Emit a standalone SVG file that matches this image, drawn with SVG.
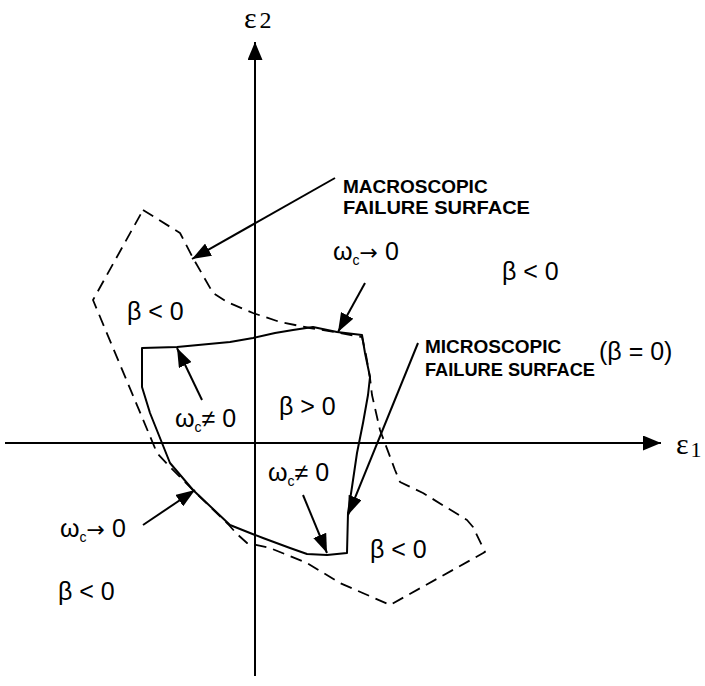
<svg xmlns="http://www.w3.org/2000/svg" width="705" height="686" viewBox="0 0 705 686">
<style>
.ax{stroke:#000;stroke-width:2;fill:none}
.mic{stroke:#000;stroke-width:2;fill:none;stroke-linejoin:round}
.mac{stroke:#000;stroke-width:1.8;fill:none;stroke-dasharray:12 7;stroke-linejoin:round}
.ar{stroke:#000;stroke-width:2;fill:none;marker-end:url(#ah)}
.lb{font-family:"Liberation Sans","DejaVu Sans",sans-serif;font-size:25px;fill:#000}
.cap{font-family:"Liberation Sans","DejaVu Sans",sans-serif;font-size:19px;font-weight:bold;fill:#000}
.eps{font-family:"Liberation Serif","DejaVu Serif",serif;fill:#000}
.sub{font-size:14px}
.arw{font-family:"DejaVu Sans",sans-serif;font-size:22px}
</style>
<defs>
<marker id="ah" markerUnits="userSpaceOnUse" markerWidth="20" markerHeight="14" refX="19" refY="7" orient="auto">
<path d="M0,0 L19,7 L0,14 Z" fill="#000"/>
</marker>
<marker id="axh" markerUnits="userSpaceOnUse" markerWidth="20" markerHeight="16" refX="18" refY="7.5" orient="auto">
<path d="M0,0 L18,7.5 L0,15 Z" fill="#000"/>
</marker>
</defs>
<g id="axes">
<line class="ax" x1="255" y1="676" x2="255" y2="42" marker-end="url(#axh)"/>
<line class="ax" x1="5" y1="443" x2="661" y2="443" marker-end="url(#axh)"/>
</g>
<g id="macroscopic-surface">
<polyline class="mac" points="143,210 180,233 193,258 213,293 227,302 253,313 280,322 310,328 340,333 362,337 366,355 370,378 372,395 380,430 395,470 400,482 423,493 467,520 473,527 485,552 390,605 340,583 307,563 270,548 247,543 237,534 228,524 195,492 170,467 157,453 93,300 143,210"/>
</g>
<g id="microscopic-surface">
<polygon class="mic" points="142,348 177,347 230,342 253,338 275,333 293,330 313,327 337,332 362,335 365,353 370,377 368,395 363,423 357,453 352,487 348,513 347,553 327,555 307,554 290,548 263,538 250,533 230,525 193,490 170,463 162,443 150,413 142,387"/>
</g>
<g id="connectors">
<line class="ar" x1="335" y1="178" x2="192" y2="259"/>
<line class="ar" x1="365" y1="283" x2="338" y2="332"/>
<line class="ar" x1="202" y1="400" x2="177" y2="348"/>
<line class="ar" x1="143" y1="525" x2="195" y2="490"/>
<line class="ar" x1="303" y1="495" x2="327" y2="553"/>
<line class="ar" x1="418" y1="343" x2="348" y2="515"/>
</g>
<g id="axis-labels">
<text class="eps" x="244" y="28"><tspan font-size="30">ε</tspan><tspan font-size="24" dx="3">2</tspan></text>
<text class="eps" x="676" y="454"><tspan font-size="30">ε</tspan><tspan font-size="22" dx="2" dy="3">1</tspan></text>
</g>
<g id="label-macroscopic">
<text class="cap" x="343" y="193">MACROSCOPIC</text>
<text class="cap" x="343" y="214" textLength="187" lengthAdjust="spacingAndGlyphs">FAILURE SURFACE</text>
</g>
<g id="label-microscopic">
<text class="cap" x="425" y="353">MICROSCOPIC</text>
<text class="cap" x="425" y="376" textLength="170" lengthAdjust="spacingAndGlyphs">FAILURE SURFACE</text>
<text class="lb" x="599" y="360">(β = 0)</text>
</g>
<g id="region-labels">
<text class="lb" x="502" y="280">β &lt; 0</text>
<text class="lb" x="127" y="320">β &lt; 0</text>
<text class="lb" x="279" y="415">β &gt; 0</text>
<text class="lb" x="370" y="558">β &lt; 0</text>
<text class="lb" x="58" y="600">β &lt; 0</text>
</g>
<g id="omega-labels">
<text class="lb" x="333" y="260">ω<tspan class="sub" dy="5">c</tspan><tspan class="arw" dy="-5">→</tspan> 0</text>
<text class="lb" x="175" y="427">ω<tspan class="sub" dy="5">c</tspan><tspan dy="-5">≠ 0</tspan></text>
<text class="lb" x="268" y="481">ω<tspan class="sub" dy="5">c</tspan><tspan dy="-5">≠ 0</tspan></text>
<text class="lb" x="60" y="537">ω<tspan class="sub" dy="5">c</tspan><tspan class="arw" dy="-5">→</tspan> 0</text>
</g>
</svg>
